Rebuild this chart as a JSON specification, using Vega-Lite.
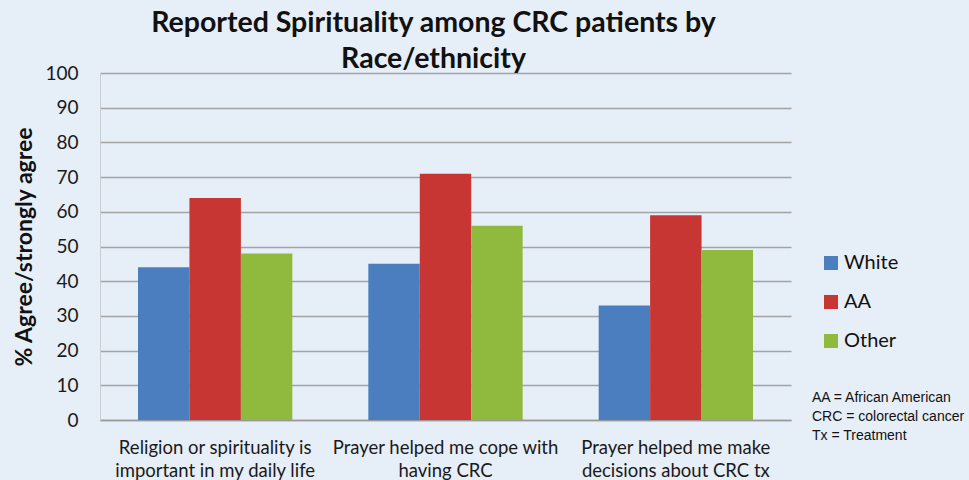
{
  "$schema": "https://vega.github.io/schema/vega-lite/v6.json",
  "width": 691,
  "height": 347,
  "autosize": {"type": "none"},
  "padding": {"left": 100, "top": 73, "right": 178, "bottom": 60},
  "background": "#e6eef7",
  "title": {
    "text": ["Reported Spirituality among CRC patients by", "Race/ethnicity"],
    "font": "Lato",
    "fontSize": 28.5,
    "fontWeight": "bold",
    "color": "#111111",
    "lineHeight": 36,
    "anchor": "middle",
    "dx": -12,
    "offset": -9
  },
  "config": {
    "view": {"stroke": null, "fill": "#fbfcfe"},
    "font": "Lato"
  },
  "layer": [
    {
      "data": {
        "values": [
          {"question": "Religion or spirituality is\nimportant in my daily life", "group": "White", "pct": 44},
          {"question": "Religion or spirituality is\nimportant in my daily life", "group": "AA", "pct": 64},
          {"question": "Religion or spirituality is\nimportant in my daily life", "group": "Other", "pct": 48},
          {"question": "Prayer helped me cope with\nhaving CRC", "group": "White", "pct": 45},
          {"question": "Prayer helped me cope with\nhaving CRC", "group": "AA", "pct": 71},
          {"question": "Prayer helped me cope with\nhaving CRC", "group": "Other", "pct": 56},
          {"question": "Prayer helped me make\ndecisions about CRC tx", "group": "White", "pct": 33},
          {"question": "Prayer helped me make\ndecisions about CRC tx", "group": "AA", "pct": 59},
          {"question": "Prayer helped me make\ndecisions about CRC tx", "group": "Other", "pct": 49}
        ]
      },
      "mark": {"type": "bar"},
      "encoding": {
        "x": {
          "field": "question",
          "type": "nominal",
          "sort": null,
          "scale": {"paddingInner": 0.33, "paddingOuter": 0.165},
          "axis": {
            "title": null,
            "labelAngle": 0,
            "labelExpr": "split(datum.label, '\\n')",
            "labelFont": "Lato",
            "labelFontSize": 18.5,
            "labelColor": "#1a1a1a",
            "labelLineHeight": 23,
            "labelPadding": 18,
            "labelLimit": 300,
            "ticks": false,
            "domainColor": "#9a9a9a",
            "domainWidth": 1.5
          }
        },
        "xOffset": {"field": "group", "type": "nominal", "sort": ["White", "AA", "Other"]},
        "y": {
          "field": "pct",
          "type": "quantitative",
          "scale": {"domain": [0, 100]},
          "axis": {
            "title": "% Agree/strongly agree",
            "titleFont": "Lato",
            "titleFontSize": 23,
            "titleFontWeight": "bold",
            "titleColor": "#111111",
            "titlePadding": 8,
            "values": [0, 10, 20, 30, 40, 50, 60, 70, 80, 90, 100],
            "labelFont": "Lato",
            "labelFontSize": 19,
            "labelColor": "#1a1a1a",
            "labelPadding": 22,
            "ticks": false,
            "domain": true,
            "domainColor": "#c9ccd0",
            "domainWidth": 1,
            "gridColor": "#a3a3a3",
            "gridWidth": 1.5
          }
        },
        "color": {
          "field": "group",
          "type": "nominal",
          "sort": ["White", "AA", "Other"],
          "scale": {"domain": ["White", "AA", "Other"], "range": ["#4b7ebf", "#c73633", "#8fba3e"]},
          "legend": {
            "title": null,
            "orient": "none",
            "legendX": 721,
            "legendY": 180,
            "symbolType": "square",
            "symbolSize": 196,
            "symbolStrokeWidth": 0,
            "labelFont": "Lato",
            "labelFontSize": 20,
            "labelColor": "#111111",
            "labelOffset": 3,
            "rowPadding": 19
          }
        }
      }
    },
    {
      "data": {
        "values": [
          {"note": "AA = African American"},
          {"note": "CRC = colorectal cancer"},
          {"note": "Tx = Treatment"}
        ]
      },
      "mark": {"type": "point", "opacity": 0},
      "encoding": {
        "shape": {
          "field": "note",
          "type": "nominal",
          "legend": {
            "title": null,
            "orient": "none",
            "legendX": 698,
            "legendY": 318,
            "symbolSize": 0,
            "symbolOpacity": 0,
            "labelFont": "Liberation Sans",
            "labelFontSize": 14,
            "labelColor": "#111111",
            "labelOffset": 0,
            "rowPadding": 5
          }
        }
      }
    }
  ]
}
